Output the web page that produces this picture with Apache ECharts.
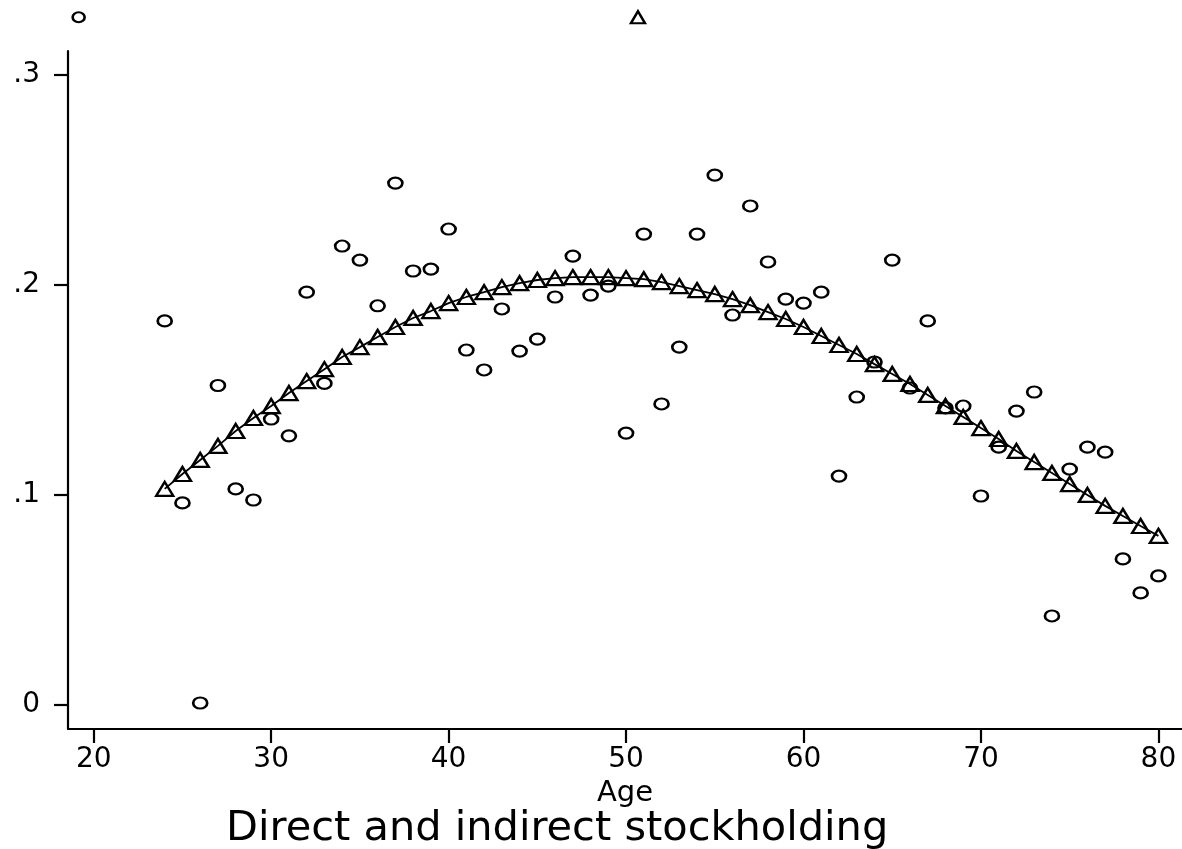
<!DOCTYPE html>
<html><head><meta charset="utf-8">
<script src="https://cdn.jsdelivr.net/npm/echarts@6/dist/echarts.min.js"></script>
<style>html,body{margin:0;padding:0;background:#fff}#c{width:1182px;height:849px}</style>
</head><body><div id="c"></div>
<script>
const ages = [24,25,26,27,28,29,30,31,32,33,34,35,36,37,38,39,40,41,42,43,44,45,46,47,48,49,50,51,52,53,54,55,56,57,58,59,60,61,62,63,64,65,66,67,68,69,70,71,72,73,74,75,76,77,78,79,80];
const observed = [0.1828,0.096,0.0006,0.152,0.1027,0.0974,0.136,0.128,0.1965,0.153,0.2185,0.2118,0.19,0.2485,0.2066,0.2075,0.2266,0.1689,0.1594,0.1885,0.1684,0.1741,0.1942,0.2137,0.1951,0.1994,0.1293,0.2242,0.1432,0.1703,0.2242,0.2523,0.1856,0.2376,0.2109,0.1932,0.1913,0.1965,0.1088,0.1465,0.1632,0.2118,0.1508,0.1828,0.1413,0.1422,0.0993,0.1226,0.1398,0.1489,0.0421,0.1121,0.1226,0.1202,0.0693,0.0531,0.0612];
const fitted = [0.1027,0.1098,0.1165,0.1232,0.1303,0.1365,0.1422,0.1484,0.1541,0.1598,0.1656,0.1703,0.1751,0.1799,0.1842,0.1875,0.1913,0.1942,0.1965,0.1989,0.2008,0.2023,0.2032,0.2037,0.2037,0.2037,0.2032,0.2027,0.2013,0.1994,0.1975,0.1956,0.1932,0.1903,0.187,0.1837,0.1799,0.1756,0.1713,0.167,0.1622,0.1575,0.1527,0.1475,0.1422,0.137,0.1317,0.1265,0.1208,0.1155,0.1103,0.105,0.0998,0.0946,0.0898,0.085,0.0803];
const keyCircle = [[19.15, 0.3276]];
const keyTriangle = [[50.67, 0.3276]];
const xTicks = [20,30,40,50,60,70,80];
const yTicks = [0,0.1,0.2,0.3];
const titleText = 'Direct and indirect stockholding';
const xName = 'Age';

const chart = echarts.init(document.getElementById('c'), null, {renderer:'canvas'});
const font = 'DejaVu Sans';
const fmtY = v => { const s = (Math.round(v*10)/10).toString(); return s === '0' ? '0' : s.replace(/^0/, ''); };
const mk = {color:'rgba(255,255,255,0)', borderColor:'#000', borderWidth:2.4, opacity:1};
chart.setOption({
  animation:false,
  backgroundColor:'#fff',
  grid:{left:68, right:0, top:51, bottom:120, containLabel:false},
  xAxis:{type:'value', min:18.55, max:81.33,
    name:xName, nameLocation:'middle', nameGap:49,
    nameTextStyle:{fontFamily:font, fontSize:29, color:'#000'},
    axisLine:{show:true, onZero:false, lineStyle:{color:'#000', width:2.2}},
    axisTick:{show:true, customValues:xTicks, length:14, lineStyle:{color:'#000', width:2.2}},
    axisLabel:{customValues:xTicks, fontFamily:font, fontSize:28, color:'#000', margin:17},
    splitLine:{show:false}},
  yAxis:{type:'value', min:-0.0118, max:0.3115,
    axisLine:{show:true, onZero:false, lineStyle:{color:'#000', width:2.2}},
    axisTick:{show:true, customValues:yTicks, length:14, lineStyle:{color:'#000', width:2.2}},
    axisLabel:{customValues:yTicks, formatter:fmtY, fontFamily:font, fontSize:28, color:'#000', margin:28},
    splitLine:{show:false}},
  graphic:[{type:'text', left:226, top:808, style:{text:titleText, font:'41.5px DejaVu Sans', fill:'#000'}}],
  series:[
    {type:'scatter', data:ages.map((a,i)=>[a,observed[i]]), symbol:'circle', symbolSize:[14,11],
      itemStyle:mk, z:2},
    {type:'line', data:ages.map((a,i)=>[a,fitted[i]]), symbol:'triangle', symbolSize:[17,14], showAllSymbol:true,
      lineStyle:{color:'#000', width:1.8}, itemStyle:mk, z:3},
    {type:'scatter', data:keyCircle, clip:false, symbol:'circle', symbolSize:[12,10], itemStyle:mk},
    {type:'scatter', data:keyTriangle, clip:false, symbol:'triangle', symbolSize:[14,12], itemStyle:mk}
  ]
});
</script></body></html>
